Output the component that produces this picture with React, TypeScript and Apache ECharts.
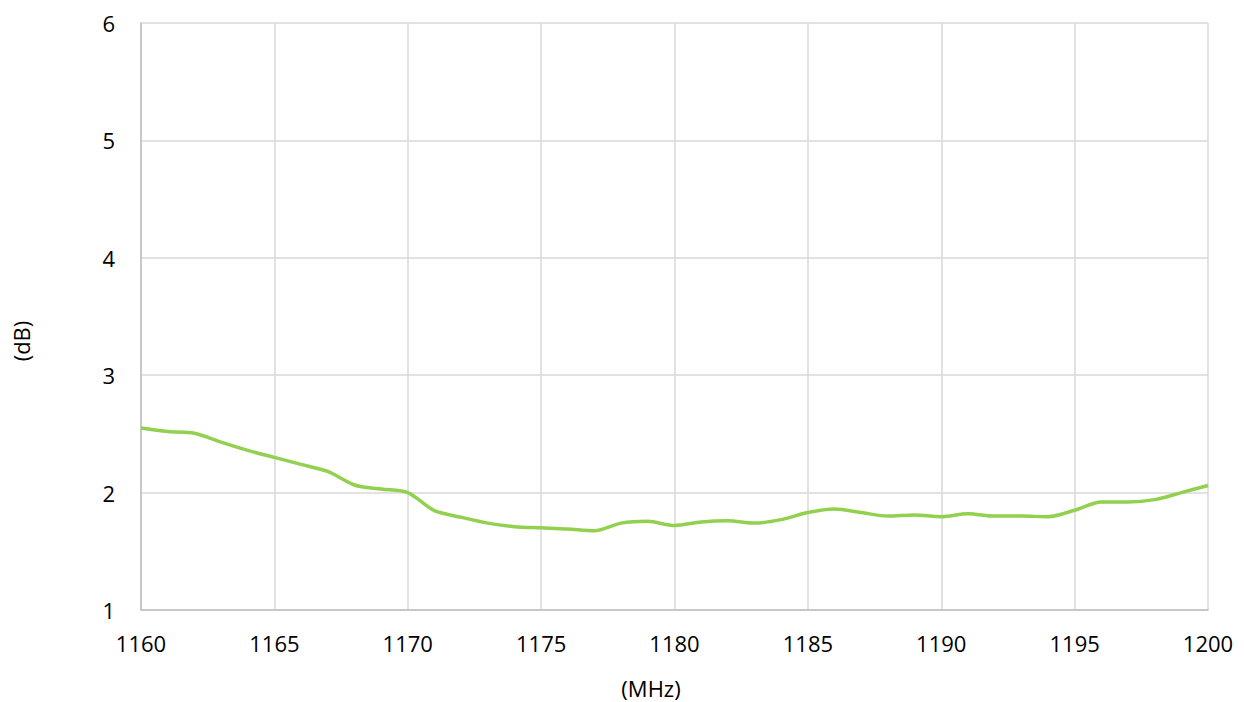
import React, { useEffect, useRef } from "react";
import * as echarts from "echarts";

const freqs = [1160,1161,1162,1163,1164,1165,1166,1167,1168,1169,1170,1171,1172,1173,1174,1175,1176,1177,1178,1179,1180,1181,1182,1183,1184,1185,1186,1187,1188,1189,1190,1191,1192,1193,1194,1195,1196,1197,1198,1199,1200];
const values = [2.55,2.52,2.505,2.43,2.36,2.30,2.24,2.18,2.065,2.03,2.0,1.846,1.79,1.74,1.71,1.70,1.69,1.675,1.74,1.755,1.72,1.75,1.76,1.74,1.77,1.83,1.86,1.83,1.80,1.81,1.795,1.82,1.80,1.80,1.795,1.85,1.92,1.92,1.94,2.0,2.06];
const xName = "(MHz)";
const yName = "(dB)";

export default function App() {
  const ref = useRef<HTMLDivElement>(null);
  useEffect(() => {
    const chart = echarts.init(ref.current!, null, { renderer: "svg" });
    const font = "'Open Sans', 'Liberation Sans', sans-serif";
    chart.setOption({
      animation: false,
      backgroundColor: "#ffffff",
      grid: { left: 141, right: 36, top: 23, bottom: 92 },
      xAxis: {
        type: "value",
        min: 1160,
        max: 1200,
        interval: 5,
        axisLine: { show: true, lineStyle: { color: "#bfbfbf", width: 1.5 } },
        axisTick: { show: false },
        axisLabel: { color: "#000", fontSize: 22, fontFamily: font, margin: 22, formatter: (v: number) => String(v) },
        splitLine: { show: true, lineStyle: { color: "#d9d9d9", width: 1.5 } },
      },
      yAxis: {
        type: "value",
        min: 1,
        max: 6,
        interval: 1,
        axisLine: { show: true, lineStyle: { color: "#bfbfbf", width: 1.5 } },
        axisTick: { show: false },
        axisLabel: { color: "#000", fontSize: 22, fontFamily: font, margin: 26 },
        splitLine: { show: true, lineStyle: { color: "#d9d9d9", width: 1.5 } },
      },
      graphic: [
        {
          type: "text",
          x: 651,
          y: 688,
          style: { text: xName, fill: "#000", font: `22px ${font}`, align: "center", verticalAlign: "middle" },
        },
        {
          type: "text",
          x: 21,
          y: 341,
          rotation: Math.PI / 2,
          style: { text: yName, fill: "#000", font: `22px ${font}`, align: "center", verticalAlign: "middle" },
        },
      ],
      series: [
        {
          type: "line",
          data: freqs.map((f, i) => [f, values[i]]),
          smooth: 0.3,
          showSymbol: false,
          lineStyle: { color: "#92d050", width: 3.5 },
        },
      ],
    });
    return () => chart.dispose();
  }, []);
  return <div ref={ref} style={{ position: "fixed", left: 0, top: 0, width: 1244, height: 702 }} />;
}
